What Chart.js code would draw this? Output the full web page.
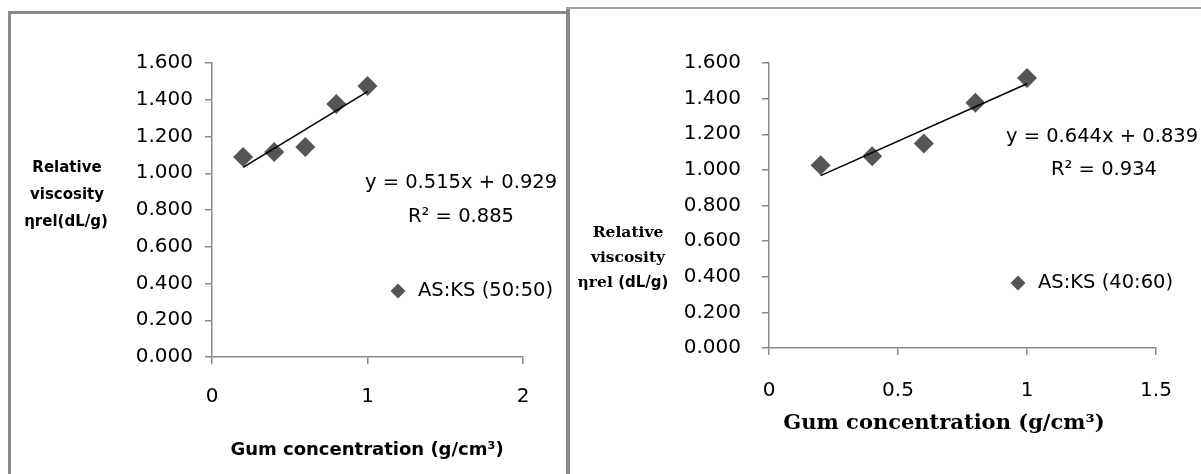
<!DOCTYPE html>
<html>
<head>
<meta charset="utf-8">
<title>Relative viscosity vs gum concentration</title>
<script src="https://cdn.jsdelivr.net/npm/chart.js@4.4.1/dist/chart.umd.min.js"></script>
<style>
  html, body { margin: 0; padding: 0; background: #fff; }
  #page { position: relative; width: 1201px; height: 474px; overflow: hidden; background: #fff; }
  canvas { position: absolute; top: 0; }
  #chartL { left: 0; }
  #chartR { left: 570px; }
  .rule { position: absolute; background: #8a8a8a; }
</style>
</head>
<body>
<div id="page">
  <canvas id="chartL" width="566" height="474"></canvas>
  <canvas id="chartR" width="631" height="474"></canvas>
  <!-- panel frames -->
  <div class="rule" style="left:8px;top:11px;width:3px;height:470px;"></div>
  <div class="rule" style="left:8px;top:11px;width:560px;height:3px;"></div>
  <div class="rule" style="left:566px;top:8px;width:4px;height:470px;"></div>
  <div class="rule" style="left:566px;top:7px;width:635px;height:2px;background:#a3a3a3;"></div>
</div>
<script>
// Gum concentration (g/cm³) of the five samples
const concentration = [0.2, 0.4, 0.6, 0.8, 1.0];

// Relative viscosity of each blend
const viscosity5050 = [1.088, 1.116, 1.143, 1.377, 1.475];
const viscosity4060 = [1.026, 1.076, 1.148, 1.377, 1.516];

// Linear fits: slope, intercept, R²
const fit5050 = [0.515, 0.929, 0.885];
const fit4060 = [0.644, 0.839, 0.934];

// Series names
const seriesNames = ['AS:KS (50:50)', 'AS:KS (40:60)'];

// Tick labels
const yTickLabels = ['0.000', '0.200', '0.400', '0.600', '0.800', '1.000', '1.200', '1.400', '1.600'];
const xTickLabels5050 = ['0', '1', '2'];
const xTickLabels4060 = ['0', '0.5', '1', '1.5'];

Chart.defaults.font.family = "'DejaVu Sans', sans-serif";
Chart.defaults.color = '#000';

const MARKER = '#555555';
const AXIS = '#8a8a8a';

function points(xs, ys) { return xs.map((x, i) => ({ x, y: ys[i] })); }
function fitLine(xs, fit) {
  const x0 = xs[0], x1 = xs[xs.length - 1];
  return [{ x: x0, y: fit[0] * x0 + fit[1] }, { x: x1, y: fit[0] * x1 + fit[1] }];
}
function eqText(fit) { return 'y = ' + fit[0].toFixed(3) + 'x + ' + fit[1].toFixed(3); }
function r2Text(fit) { return 'R\u00B2 = ' + fit[2].toFixed(3); }

// Draws the free text of a panel: axis titles, fit equation, legend
const panelText = {
  id: 'panelText',
  afterDraw(chart, args, opts) {
    const ctx = chart.ctx;
    ctx.save();
    ctx.textBaseline = 'middle';
    ctx.fillStyle = '#000';
    for (const item of opts.items || []) {
      const runs = item.runs;
      let total = 0;
      for (const r of runs) { ctx.font = r.font; total += ctx.measureText(r.text).width; }
      let x = item.align === 'left' ? item.x : item.x - total / 2;
      ctx.textAlign = 'left';
      for (const r of runs) {
        ctx.font = r.font;
        ctx.fillText(r.text, x, item.y + (r.dy || 0));
        x += ctx.measureText(r.text).width;
      }
    }
    const lg = opts.legend;
    if (lg) {
      const { x, y, r } = lg;
      ctx.fillStyle = MARKER;
      ctx.beginPath();
      ctx.moveTo(x - r, y); ctx.lineTo(x, y - r); ctx.lineTo(x + r, y); ctx.lineTo(x, y + r);
      ctx.closePath();
      ctx.fill();
      ctx.fillStyle = '#000';
      ctx.font = lg.font;
      ctx.textAlign = 'left';
      ctx.fillText(lg.text, lg.textX, y);
    }
    ctx.restore();
  }
};

function makeChart(id, cfg) {
  return new Chart(document.getElementById(id), {
    type: 'scatter',
    data: {
      datasets: [
        {
          label: cfg.name,
          data: points(concentration, cfg.values),
          pointStyle: 'rectRot',
          pointRadius: 10,
          pointHoverRadius: 10,
          backgroundColor: MARKER,
          borderColor: MARKER,
          borderWidth: 0,
          order: 1
        },
        {
          label: 'Linear fit',
          data: fitLine(concentration, cfg.fit),
          showLine: true,
          borderColor: '#000',
          borderWidth: 1.6,
          pointRadius: 0,
          pointHoverRadius: 0,
          order: 0
        }
      ]
    },
    options: {
      responsive: false,
      animation: false,
      events: [],
      layout: { padding: { top: cfg.top, right: cfg.padRight, bottom: 0, left: 0 } },
      plugins: {
        legend: { display: false },
        tooltip: { enabled: false },
        panelText: cfg.text
      },
      scales: {
        x: {
          type: 'linear',
          min: 0,
          max: cfg.xMax,
          afterFit(s) { s.height = cfg.xHeight; },
          afterBuildTicks(s) {
            s.ticks = cfg.xLabels.map(l => ({ value: parseFloat(l) }));
          },
          ticks: {
            padding: cfg.xPad,
            font: { size: 20 },
            maxRotation: 0,
            callback: (v, i) => cfg.xLabels[i]
          },
          grid: { drawOnChartArea: false, drawTicks: true, tickLength: 7, color: AXIS, lineWidth: 1.5 },
          border: { display: true, color: AXIS, width: 1.5 }
        },
        y: {
          type: 'linear',
          min: 0,
          max: 1.6,
          afterFit(s) { s.width = cfg.yWidth; },
          afterBuildTicks(s) {
            s.ticks = yTickLabels.map(l => ({ value: parseFloat(l) }));
          },
          ticks: {
            padding: cfg.yPad,
            font: { size: 20 },
            callback: (v, i) => yTickLabels[i]
          },
          grid: { drawOnChartArea: false, drawTicks: true, tickLength: 7, color: AXIS, lineWidth: 1.5 },
          border: { display: true, color: AXIS, width: 1.5 }
        }
      }
    },
    plugins: [panelText]
  });
}

const SANS = "'DejaVu Sans', sans-serif";
const SERIF = "'DejaVu Serif', serif";

// AS:KS (50:50)
makeChart('chartL', {
  name: seriesNames[0],
  values: viscosity5050,
  fit: fit5050,
  xMax: 2,
  xLabels: xTickLabels5050,
  top: 63,
  padRight: 43,
  yWidth: 212,
  xHeight: 117,
  xPad: 21,
  yPad: 12,
  text: {
    items: [
      { x: 67, y: 168, runs: [{ text: 'Relative', font: 'bold 15px ' + SANS }] },
      { x: 67, y: 195, runs: [{ text: 'viscosity', font: 'bold 15px ' + SANS }] },
      { x: 66, y: 222, runs: [{ text: '\u03B7rel(dL/g)', font: 'bold 15px ' + SANS }] },
      { x: 367, y: 450, runs: [{ text: 'Gum concentration (g/cm\u00B3)', font: 'bold 18px ' + SANS }] },
      { x: 461, y: 183, runs: [{ text: eqText(fit5050), font: '19.5px ' + SANS }] },
      { x: 461, y: 217, runs: [{ text: r2Text(fit5050), font: '19.5px ' + SANS }] }
    ],
    legend: { x: 398, y: 291, r: 7.5, textX: 418, text: seriesNames[0], font: '19.5px ' + SANS }
  }
});

// AS:KS (40:60)
makeChart('chartR', {
  name: seriesNames[1],
  values: viscosity4060,
  fit: fit4060,
  xMax: 1.5,
  xLabels: xTickLabels4060,
  top: 63,
  padRight: 45,
  yWidth: 199,
  xHeight: 126,
  xPad: 24,
  yPad: 21,
  text: {
    items: [
      { x: 58, y: 233, runs: [{ text: 'Relative', font: 'bold 15.5px ' + SERIF }] },
      { x: 58, y: 258, runs: [{ text: 'viscosity', font: 'bold 15.5px ' + SERIF }] },
      { x: 53, y: 283, runs: [{ text: '\u03B7rel ', font: 'bold 15.5px ' + SERIF }, { text: '(dL/g)', font: 'bold 15px ' + SANS }] },
      { x: 374, y: 424, runs: [{ text: 'Gum concentration (g/cm\u00B3)', font: 'bold 21px ' + SERIF }] },
      { x: 532, y: 137, runs: [{ text: eqText(fit4060), font: '19.5px ' + SANS }] },
      { x: 534, y: 170, runs: [{ text: r2Text(fit4060), font: '19.5px ' + SANS }] }
    ],
    legend: { x: 448, y: 283, r: 7.5, textX: 468, text: seriesNames[1], font: '19.5px ' + SANS }
  }
});
</script>
</body>
</html>
